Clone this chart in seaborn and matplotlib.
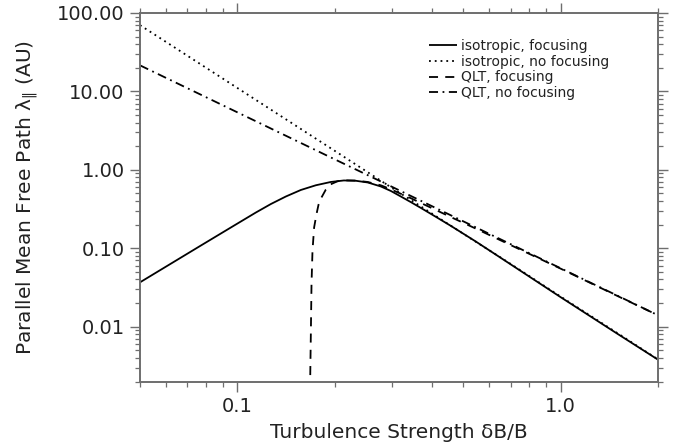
import numpy as np
import pandas as pd
import matplotlib
matplotlib.use("Agg")
import matplotlib.pyplot as plt
import matplotlib.ticker as mticker
import seaborn as sns

# ---- data ----
iso_foc_x = [0.05, 0.0771, 0.0975, 0.1141, 0.1270, 0.1413, 0.1572, 0.1749, 0.1946,
             0.2135, 0.2325, 0.2532, 0.2779, 0.2985, 0.3204, 0.3440, 0.3695, 0.4111,
             0.4574, 0.5467, 0.6531, 1.0, 1.5, 2.0]
iso_foc_y = [0.0368, 0.1083, 0.1938, 0.2857, 0.3668, 0.4574, 0.5538, 0.6358, 0.7006,
             0.7322, 0.7257, 0.6902, 0.6138, 0.5377, 0.4574, 0.3880, 0.3270, 0.2518,
             0.1932, 0.1218, 0.0754, 0.0238, 0.0081, 0.0038]

iso_nofoc_x = [0.05, 0.1, 0.2, 0.3, 0.4, 0.5, 0.7, 1.0, 1.5, 2.0]
iso_nofoc_y = [70.0, 11.07, 1.75, 0.592, 0.277, 0.153, 0.0633, 0.0242, 0.00826, 0.00383]

qlt_foc_x = [0.1678, 0.1688, 0.1696, 0.1708, 0.1728, 0.1758, 0.1783, 0.1813, 0.1878,
             0.1946, 0.2040, 0.2135, 0.2325, 0.2532, 0.2779, 0.2985, 0.3204, 0.3440,
             0.3695, 0.4111, 0.4574, 0.5467, 0.7, 1.0, 1.5, 2.0]
qlt_foc_y = [0.0015, 0.0081, 0.035, 0.0935, 0.185, 0.275, 0.36, 0.43, 0.56,
             0.655, 0.715, 0.735, 0.73, 0.70, 0.635, 0.565, 0.495, 0.435,
             0.378, 0.308, 0.25, 0.178, 0.110, 0.0550, 0.0246, 0.0140]

qlt_nofoc_x = [0.05, 0.1, 0.2, 0.3, 0.5, 1.0, 2.0]
qlt_nofoc_y = [21.5, 5.415, 1.363, 0.611, 0.2205, 0.0556, 0.0140]

labels = ["isotropic, focusing", "isotropic, no focusing",
          "QLT, focusing", "QLT, no focusing"]
x_ticks = [0.1, 1.0]
x_tick_labels = ["0.1", "1.0"]
y_ticks = [0.01, 0.1, 1.0, 10.0, 100.0]
y_tick_labels = ["0.01", "0.10", "1.00", "10.00", "100.00"]

sns.set_theme(style="white")
plt.rcParams['font.family'] = ['DejaVu Sans']
plt.rcParams['mathtext.fontset'] = 'dejavusans'

fig = plt.figure(figsize=(6.8, 4.48), dpi=100)
ax = fig.add_axes([0.2059, 0.1484, 0.7617, 0.8226])

styles = [(0, ()), (0, (1, 2.2)), (0, (5, 4)), (0, (5, 2.5, 1, 2.5))]
series = [(iso_foc_x, iso_foc_y), (iso_nofoc_x, iso_nofoc_y),
          (qlt_foc_x, qlt_foc_y), (qlt_nofoc_x, qlt_nofoc_y)]
for (xs, ys), lab, ls in zip(series, labels, styles):
    df = pd.DataFrame({"x": xs, "y": ys})
    sns.lineplot(data=df, x="x", y="y", ax=ax, color="black", lw=1.3,
                 linestyle=ls, label=lab, sort=False, estimator=None)

ax.set_xscale("log")
ax.set_yscale("log")
ax.set_xlim(0.05, 2.0)
ax.set_ylim(0.002, 100.0)

ax.xaxis.set_major_locator(mticker.FixedLocator(x_ticks))
ax.xaxis.set_major_formatter(mticker.FixedFormatter(x_tick_labels))
ax.xaxis.set_minor_locator(mticker.LogLocator(base=10, subs=range(2, 10), numticks=20))
ax.xaxis.set_minor_formatter(mticker.NullFormatter())
ax.yaxis.set_major_locator(mticker.FixedLocator(y_ticks))
ax.yaxis.set_major_formatter(mticker.FixedFormatter(y_tick_labels))
ax.yaxis.set_minor_locator(mticker.LogLocator(base=10, subs=range(2, 10), numticks=20))
ax.yaxis.set_minor_formatter(mticker.NullFormatter())

spine_col = "#6e6e6e"
for s in ax.spines.values():
    s.set_visible(True)
    s.set_color(spine_col)
    s.set_linewidth(1.4)

ax.tick_params(which="both", direction="out", top=True, right=True,
               bottom=True, left=True, labelbottom=True, labelleft=True,
               labeltop=False, labelright=False,
               color=spine_col, labelcolor="#222222")
ax.tick_params(which="major", length=7, width=1.0, labelsize=14, pad=4)
ax.tick_params(which="minor", length=3.5, width=0.9)

ax.set_xlabel("Turbulence Strength δB/B", fontsize=14.5, color="#222222", labelpad=5)
ax.set_ylabel(r"Parallel Mean Free Path λ$_{\Vert}$ (AU)", fontsize=14.5,
              color="#222222", labelpad=12)

leg = ax.legend(loc="upper left", bbox_to_anchor=(0.548, 0.945), frameon=False,
                fontsize=10, handlelength=2.0, handletextpad=0.3,
                labelspacing=0.13, borderaxespad=0)
for t in leg.get_texts():
    t.set_color("#222222")

fig.savefig("out.png", dpi=100)
